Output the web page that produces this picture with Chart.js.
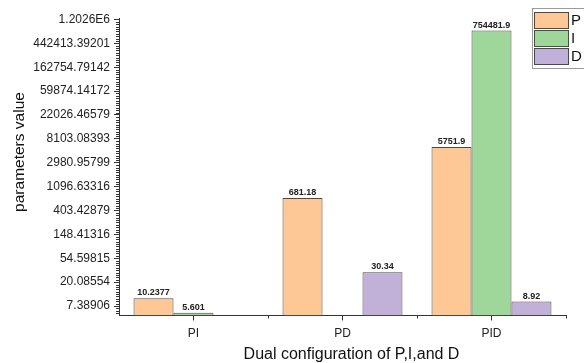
<!DOCTYPE html>
<html>
<head>
<meta charset="utf-8">
<script src="https://cdn.jsdelivr.net/npm/chart.js@4/dist/chart.umd.min.js"></script>
<style>
html,body{margin:0;padding:0;background:#fff;}
#c{display:block;}
</style>
</head>
<body>
<canvas id="c" width="584" height="363"></canvas>
<script>
const categories = ['PI', 'PD', 'PID'];
const seriesNames = ['P', 'I', 'D'];
const pValues = [10.2377, 681.18, 5751.9];
const iValues = [5.601, null, 754481.9];
const dValues = [null, 30.34, 8.92];
const pLabels = ['10.2377', '681.18', '5751.9'];
const iLabels = ['5.601', '', '754481.9'];
const dLabels = ['', '30.34', '8.92'];
const yTickExponents = [2, 3, 4, 5, 6, 7, 8, 9, 10, 11, 12, 13, 14];
const yTickLabels = ['7.38906', '20.08554', '54.59815', '148.41316', '403.42879', '1096.63316',
  '2980.95799', '8103.08393', '22026.46579', '59874.14172', '162754.79142', '442413.39201', '1.2026E6'];
const xTitle = 'Dual configuration of P,I,and D';
const yTitle = 'parameters value';
const yMin = 4.97;
const yMax = 1.277e6;

const colors = ['#FDC895', '#9FD79B', '#C1B1D9'];
const border = '#4a4a4a';
const axisColor = '#333333';
const FONT = "'Liberation Sans', Arial, sans-serif";

const labelSets = [pLabels, iLabels, dLabels];

const valueLabels = {
  id: 'valueLabels',
  afterDatasetsDraw(chart) {
    const ctx = chart.ctx;
    ctx.save();
    ctx.font = "bold 9px " + FONT;
    ctx.fillStyle = '#222';
    ctx.textAlign = 'center';
    ctx.textBaseline = 'bottom';
    chart.data.datasets.forEach((ds, di) => {
      const meta = chart.getDatasetMeta(di);
      meta.data.forEach((el, i) => {
        const v = ds.data[i];
        if (v === null || v === undefined) return;
        ctx.fillText(labelSets[di][i], el.x, el.y - 1);
      });
    });
    ctx.restore();
  }
};

const extras = {
  id: 'extras',
  afterDraw(chart) {
    const ctx = chart.ctx;
    const y = chart.scales.y, x = chart.scales.x;
    const area = chart.chartArea;
    ctx.save();
    ctx.strokeStyle = axisColor;
    ctx.lineWidth = 1;
    ctx.beginPath();
    const lnMin = Math.log(yMin), lnMax = Math.log(yMax);
    for (let k = Math.floor(lnMin); k <= Math.ceil(lnMax); k++) {
      for (let j = 1; j < 10; j++) {
        const lv = k + j / 10;
        if (lv < lnMin || lv > lnMax) continue;
        const py = Math.round(y.getPixelForValue(Math.exp(lv))) + 0.5;
        ctx.moveTo(area.left - 3, py);
        ctx.lineTo(area.left, py);
      }
    }
    const step = x.getPixelForValue(1) - x.getPixelForValue(0);
    for (let i = 0; i < categories.length; i++) {
      const px = Math.round(x.getPixelForValue(i) + step / 2) + 0.5;
      ctx.moveTo(px, area.bottom);
      ctx.lineTo(px, area.bottom + 3);
    }
    ctx.stroke();

    // axis titles
    ctx.fillStyle = '#111';
    ctx.font = "16px " + FONT;
    ctx.textAlign = 'center';
    ctx.textBaseline = 'middle';
    ctx.fillText(xTitle, (area.left + area.right) / 2 + 9, 355);
    ctx.save();
    ctx.translate(20, 152);
    ctx.rotate(-Math.PI / 2);
    ctx.font = "15.5px " + FONT;
    ctx.fillText(yTitle, 0, 0);
    ctx.restore();

    // legend
    const lx = 532, ly = 8, lw = 60, lh = 60;
    ctx.fillStyle = '#fff';
    ctx.fillRect(lx, ly, lw, lh);
    ctx.strokeStyle = '#9a9a9a';
    ctx.strokeRect(lx + 0.5, ly + 0.5, lw, lh);
    ctx.font = "15px " + FONT;
    ctx.textAlign = 'left';
    ctx.textBaseline = 'middle';
    const rows = [12, 30, 48];
    chart.data.datasets.forEach((ds, di) => {
      const ry = rows[di];
      ctx.fillStyle = ds.backgroundColor;
      ctx.fillRect(534, ry, 34, 16);
      ctx.strokeStyle = border;
      ctx.strokeRect(534.5, ry + 0.5, 34, 16);
      ctx.fillStyle = '#111';
      ctx.fillText(ds.label, 571, ry + 8.5);
    });
    ctx.restore();
  }
};

new Chart(document.getElementById('c'), {
  type: 'bar',
  data: {
    labels: categories,
    datasets: [
      { label: seriesNames[0], data: pValues, backgroundColor: colors[0], borderColor: border, borderWidth: 1 },
      { label: seriesNames[1], data: iValues, backgroundColor: colors[1], borderColor: border, borderWidth: 1 },
      { label: seriesNames[2], data: dValues, backgroundColor: colors[2], borderColor: border, borderWidth: 1 }
    ]
  },
  options: {
    responsive: false,
    animation: false,
    devicePixelRatio: 1,
    layout: { padding: { top: 18, right: 18, left: 0, bottom: 0 } },
    datasets: { bar: { barPercentage: 1, categoryPercentage: 0.805, base: yMin } },
    plugins: { legend: { display: false }, tooltip: { enabled: false } },
    scales: {
      x: {
        type: 'category',
        offset: true,
        grid: { display: true, drawOnChartArea: false, offset: false, tickLength: 5, color: axisColor },
        border: { display: true, color: axisColor, width: 1 },
        ticks: { color: '#222', font: { family: FONT, size: 12 }, padding: 6, maxRotation: 0 },
        title: { display: false },
        afterFit(s) { s.height = 47.5; }
      },
      y: {
        type: 'logarithmic',
        min: yMin,
        max: yMax,
        grid: { display: true, drawOnChartArea: false, tickLength: 5, color: axisColor },
        border: { display: true, color: axisColor, width: 1 },
        afterBuildTicks(s) { s.ticks = yTickExponents.map(k => ({ value: Math.exp(k), major: false })); },
        ticks: {
          color: '#222',
          font: { family: FONT, size: 12 },
          padding: 4,
          autoSkip: false,
          callback: (v, i) => yTickLabels[i]
        },
        title: { display: false },
        afterFit(s) { s.width = 119; }
      }
    }
  },
  plugins: [valueLabels, extras]
});
</script>
</body>
</html>
